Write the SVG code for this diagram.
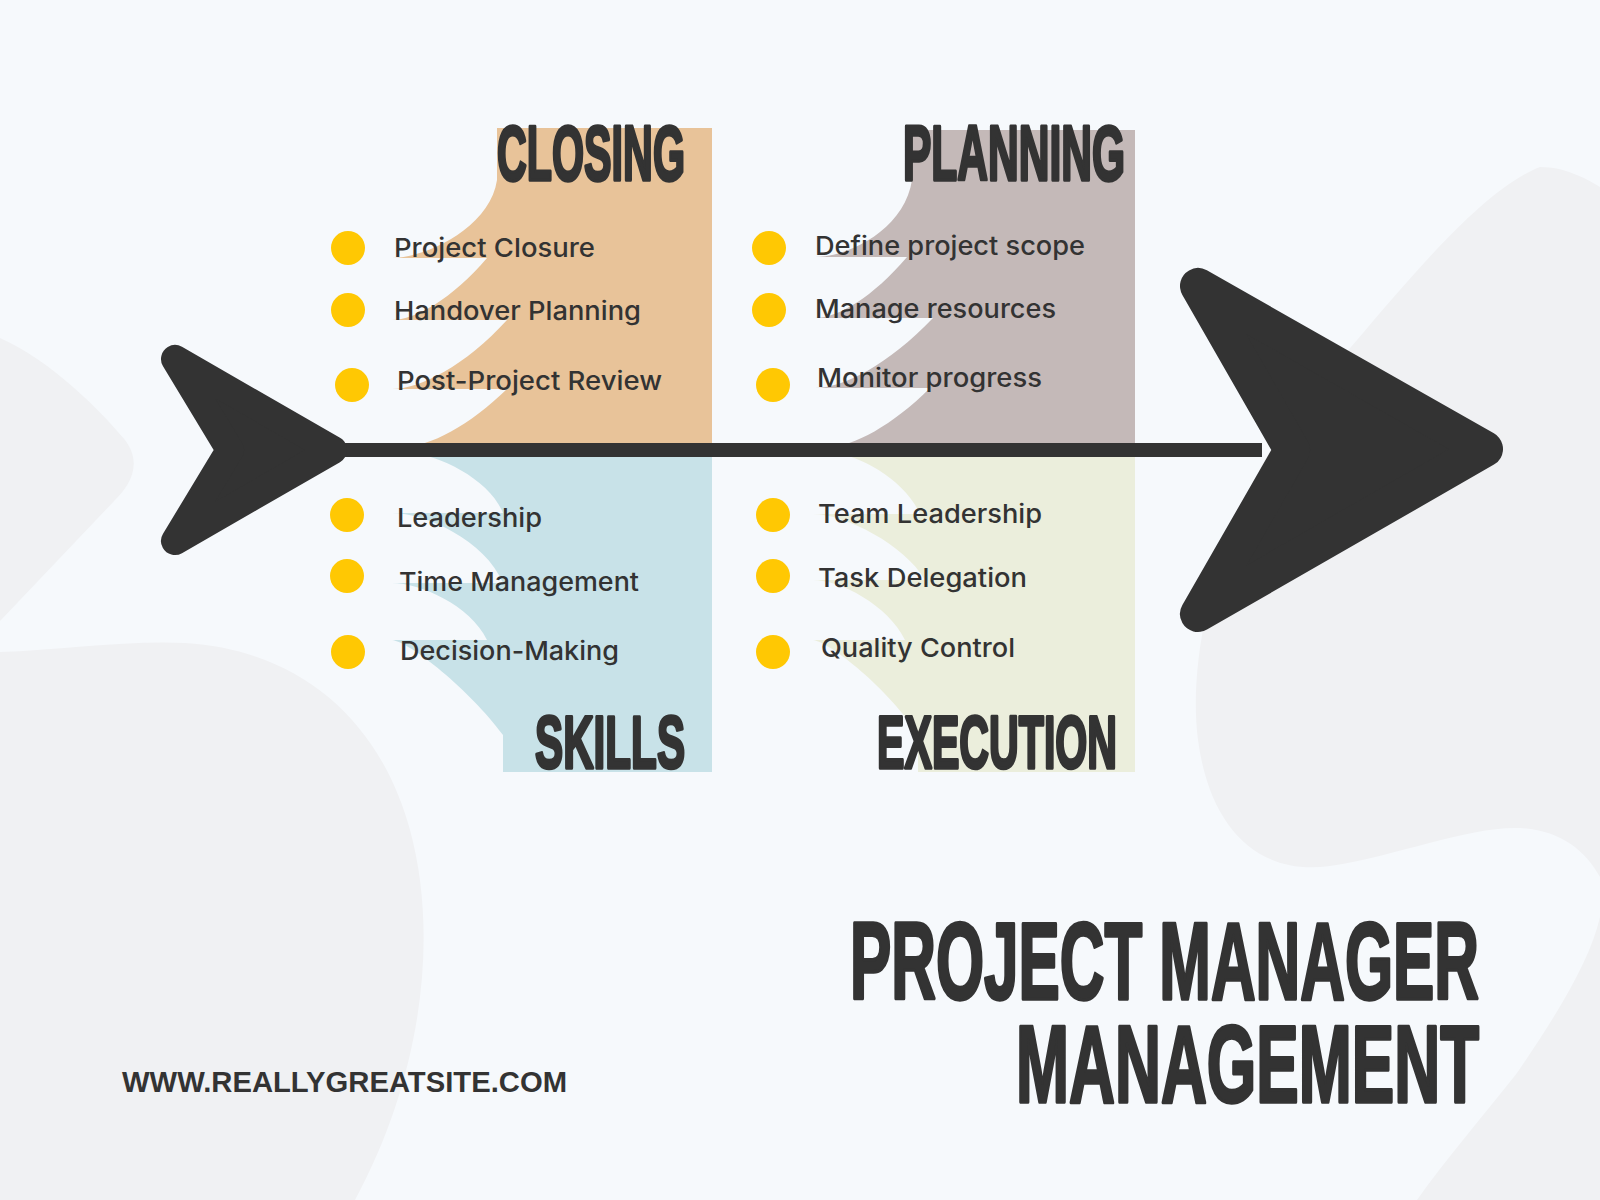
<svg xmlns="http://www.w3.org/2000/svg" width="1600" height="1200" viewBox="0 0 1600 1200">
  <style>
    .bg { fill: #F6F9FC; }
    .blob { fill: #F0F1F3; }
    .head { font-family: "Liberation Sans", Arial, sans-serif; font-weight: bold; fill: #333333; stroke: #333333; stroke-width: 3.5; stroke-linejoin: round; }
    .item { font-family: Inter, "Noto Sans", "Liberation Sans", sans-serif; font-weight: 500; font-size: 26px; fill: #333333; }
    .bullet { fill: #FFC803; }
    .dark { fill: #333333; stroke: #333333; stroke-linejoin: round; }
    .site { font-family: "Liberation Sans", Arial, sans-serif; font-weight: bold; font-size: 29px; fill: #333333; }
  </style>

  <g id="background">
    <rect class="bg" x="0" y="0" width="1600" height="1200"/>
    <path class="blob" d="M 0 338 C 50 360 100 410 125 440 C 140 460 135 480 115 500 L 0 621 Z"/>
    <path class="blob" d="M 0 652 C 60 650 130 640 185 643 C 300 650 380 720 410 830 C 440 940 420 1080 355 1200 L 0 1200 Z"/>
    <path class="blob" d="M 1540 167 C 1565 167 1585 178 1600 187 L 1600 877 C 1585 850 1560 830 1520 828 C 1470 826 1400 855 1330 866 C 1260 876 1210 830 1198 740 C 1185 640 1230 470 1340 360 C 1400 290 1480 190 1540 167 Z"/>
    <path class="blob" d="M 1600 917 C 1590 960 1560 1010 1517 1073 C 1480 1120 1445 1160 1417 1200 L 1600 1200 Z"/>
  </g>

  <g id="node-closing">
    <path fill="#E8C399" d="M 497 128 H 712 V 447 H 402 C 430 447 470 425 507 389 H 392 C 420 389 465 366 507 320 H 392 C 415 320 452 299 487 258 H 392 C 425 258 490 228 497 180 Z"/>
    <text class="head" transform="translate(497 180) scale(0.536 1)" x="0" y="0" font-size="77" textLength="350.7" lengthAdjust="spacingAndGlyphs">CLOSING</text>
    <circle class="bullet" cx="348" cy="248" r="17"/>
    <circle class="bullet" cx="348" cy="310" r="17"/>
    <circle class="bullet" cx="352" cy="385" r="17"/>
    <text class="item" x="394" y="257" textLength="201" lengthAdjust="spacingAndGlyphs">Project Closure</text>
    <text class="item" x="394" y="320" textLength="247" lengthAdjust="spacingAndGlyphs">Handover Planning</text>
    <text class="item" x="397" y="390" textLength="265" lengthAdjust="spacingAndGlyphs">Post-Project Review</text>
  </g>

  <g id="node-planning">
    <path fill="#C4B9B8" d="M 912 130 H 1135 V 447 H 828 C 853 447 893 425 930 388 H 815 C 843 388 888 365 933 318 H 815 C 838 318 873 297 907 257 H 815 C 850 257 905 228 912 180 Z"/>
    <text class="head" transform="translate(903 180) scale(0.552 1)" x="0" y="0" font-size="77" textLength="402.2" lengthAdjust="spacingAndGlyphs">PLANNING</text>
    <circle class="bullet" cx="769" cy="248" r="17"/>
    <circle class="bullet" cx="769" cy="310" r="17"/>
    <circle class="bullet" cx="773" cy="385" r="17"/>
    <text class="item" x="815" y="255" textLength="270" lengthAdjust="spacingAndGlyphs">Define project scope</text>
    <text class="item" x="815" y="318" textLength="241" lengthAdjust="spacingAndGlyphs">Manage resources</text>
    <text class="item" x="817" y="387" textLength="225" lengthAdjust="spacingAndGlyphs">Monitor progress</text>
  </g>

  <g id="node-skills">
    <path fill="#C8E2E8" d="M 712 453 V 772 H 503 V 735 C 470 690 410 642 392 640 H 487 C 470 605 420 583 392 583 H 503 C 485 540 425 513 392 513 H 503 C 490 480 440 455 410 453 Z"/>
    <text class="head" transform="translate(535 768) scale(0.570 1)" x="0" y="0" font-size="74" textLength="263.2" lengthAdjust="spacingAndGlyphs">SKILLS</text>
    <circle class="bullet" cx="347" cy="515" r="17"/>
    <circle class="bullet" cx="347" cy="576" r="17"/>
    <circle class="bullet" cx="348" cy="652" r="17"/>
    <text class="item" x="397" y="527" textLength="145" lengthAdjust="spacingAndGlyphs">Leadership</text>
    <text class="item" x="399" y="591" textLength="240" lengthAdjust="spacingAndGlyphs">Time Management</text>
    <text class="item" x="400" y="660" textLength="219" lengthAdjust="spacingAndGlyphs">Decision-Making</text>
  </g>

  <g id="node-execution">
    <path fill="#EBEEDC" d="M 1135 453 V 772 H 918 V 735 C 890 690 830 642 813 640 H 905 C 888 605 840 580 813 580 H 925 C 905 545 845 514 813 514 H 920 C 905 480 860 455 833 453 Z"/>
    <text class="head" transform="translate(877 768) scale(0.556 1)" x="0" y="0" font-size="74" textLength="431.7" lengthAdjust="spacingAndGlyphs">EXECUTION</text>
    <circle class="bullet" cx="773" cy="515" r="17"/>
    <circle class="bullet" cx="773" cy="576" r="17"/>
    <circle class="bullet" cx="773" cy="652" r="17"/>
    <text class="item" x="818" y="523" textLength="224" lengthAdjust="spacingAndGlyphs">Team Leadership</text>
    <text class="item" x="818" y="587" textLength="209" lengthAdjust="spacingAndGlyphs">Task Delegation</text>
    <text class="item" x="821" y="657" textLength="194" lengthAdjust="spacingAndGlyphs">Quality Control</text>
  </g>

  <g id="connectors">
    <rect class="dark" x="336" y="443" width="926" height="14" stroke-width="0"/>
    <polygon class="dark" stroke-width="28" points="175,359 333,450 175,541 230,450"/>
    <polygon class="dark" stroke-width="36" points="1198,286 1485,449 1198,614 1292,450"/>
  </g>

  <g id="title">
    <text class="head" transform="translate(850 999) scale(0.5624 1)" x="0" y="0" font-size="110" textLength="1118.4" lengthAdjust="spacingAndGlyphs">PROJECT MANAGER</text>
    <text class="head" transform="translate(1016 1102) scale(0.5837 1)" x="0" y="0" font-size="109" textLength="793.2" lengthAdjust="spacingAndGlyphs">MANAGEMENT</text>
  </g>

  <g id="website">
    <text class="site" x="122" y="1092" textLength="445" lengthAdjust="spacingAndGlyphs">WWW.REALLYGREATSITE.COM</text>
  </g>
</svg>
